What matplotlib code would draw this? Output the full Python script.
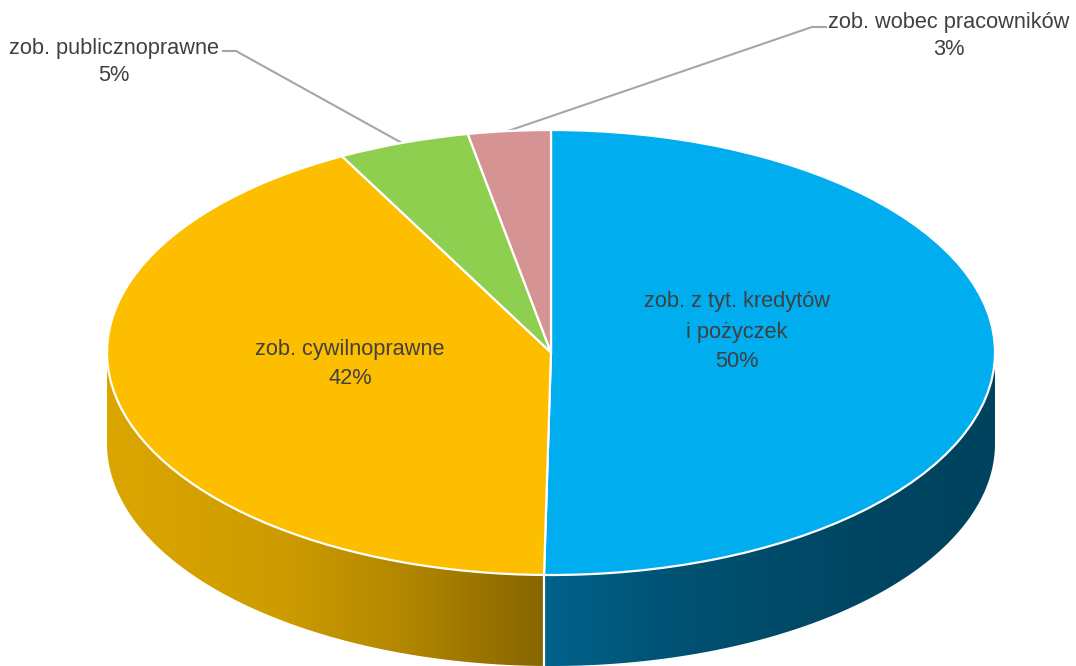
import matplotlib
matplotlib.use('Agg')
import matplotlib.pyplot as plt
from matplotlib.colors import LinearSegmentedColormap
from matplotlib.patches import Polygon
import numpy as np

plt.rcParams['font.family'] = ['Liberation Sans', 'DejaVu Sans']

categories = ['zob. z tyt. kredytów\ni pożyczek', 'zob. cywilnoprawne',
              'zob. publicznoprawne', 'zob. wobec pracowników']
values = [50.25, 41.95, 4.8, 3.0]
percent_labels = ['50%', '42%', '5%', '3%']
colors = ['#00AEEF', '#FDBE00', '#8FCF50', '#D59393']

W, H = 1076, 666
CX, CY, RX, RY = 551, 352.5, 444, 222.5
DEPTH = 91 / RY


def px(x, y):
    # picture pixels to pie units
    return (x - CX) / RX, (CY - y) / RY


fig = plt.figure(figsize=(W / 100, H / 100), dpi=100)
ax = fig.add_axes([0, 0, 1, 1])

wedges, _ = ax.pie(values, colors=colors, startangle=90, counterclock=False,
                   wedgeprops={'edgecolor': 'white', 'linewidth': 1.6, 'zorder': 5})
ax.axis('off')

# side wall, only the front half shows
side_maps = {
    0: LinearSegmentedColormap.from_list('b', [(0, '#00628A'), (0.35, '#004F6F'),
                                               (0.75, '#004562'), (1, '#00435E')]),
    1: LinearSegmentedColormap.from_list('y', [(0, '#DCA600'), (0.4, '#CE9C00'),
                                               (0.7, '#B08500'), (1, '#866500')]),
}
for i, cmap in side_maps.items():
    w = wedges[i]
    t = np.radians(np.linspace(w.theta1, w.theta2, 400))
    t = t[np.sin(t) <= 0.001]
    x, y = np.cos(t), np.sin(t)
    pts = np.r_[np.c_[x, y], np.c_[x, y - DEPTH][::-1]]
    poly = Polygon(pts, closed=True, transform=ax.transData, facecolor='none', edgecolor='none')
    ax.add_patch(poly)
    grad = np.linspace(0, 1, 256)[None, :]
    im = ax.imshow(grad, cmap=cmap, aspect='auto', zorder=2,
                   extent=(x.min(), x.max(), y.min() - DEPTH, y.max()))
    im.set_clip_path(poly)

ax.set_aspect('auto')
ax.set_xlim(px(0, 0)[0], px(W, 0)[0])
ax.set_ylim(px(0, H)[1], px(0, 0)[1])

# white seam between the two side walls
seam = np.radians(wedges[0].theta1)
ax.plot([np.cos(seam)] * 2, [np.sin(seam), np.sin(seam) - DEPTH], color='white', lw=1.6, zorder=4)

txt = {'color': '#404040', 'fontsize': 15.7, 'ha': 'center', 'va': 'center', 'zorder': 6}
lines = categories[0].split('\n')
ax.text(*px(737, 301), lines[0], **txt)
ax.text(*px(737, 332), lines[1], **txt)
ax.text(*px(737, 361), percent_labels[0], **txt)
ax.text(*px(350, 349), categories[1], **txt)
ax.text(*px(350, 378), percent_labels[1], **txt)
ax.text(*px(114, 48), categories[2], **txt)
ax.text(*px(114, 75), percent_labels[2], **txt)
ax.text(*px(949, 22), categories[3], **txt)
ax.text(*px(949, 49), percent_labels[3], **txt)

# leader lines
for path in ([(223, 51), (236, 51), (402, 143)], [(826, 27), (812, 27), (508, 131)]):
    xs, ys = zip(*[px(*p) for p in path])
    ax.plot(xs, ys, color='#A6A6A6', lw=1.5, zorder=4, solid_joinstyle='round')

fig.savefig('out.png', dpi=100)
